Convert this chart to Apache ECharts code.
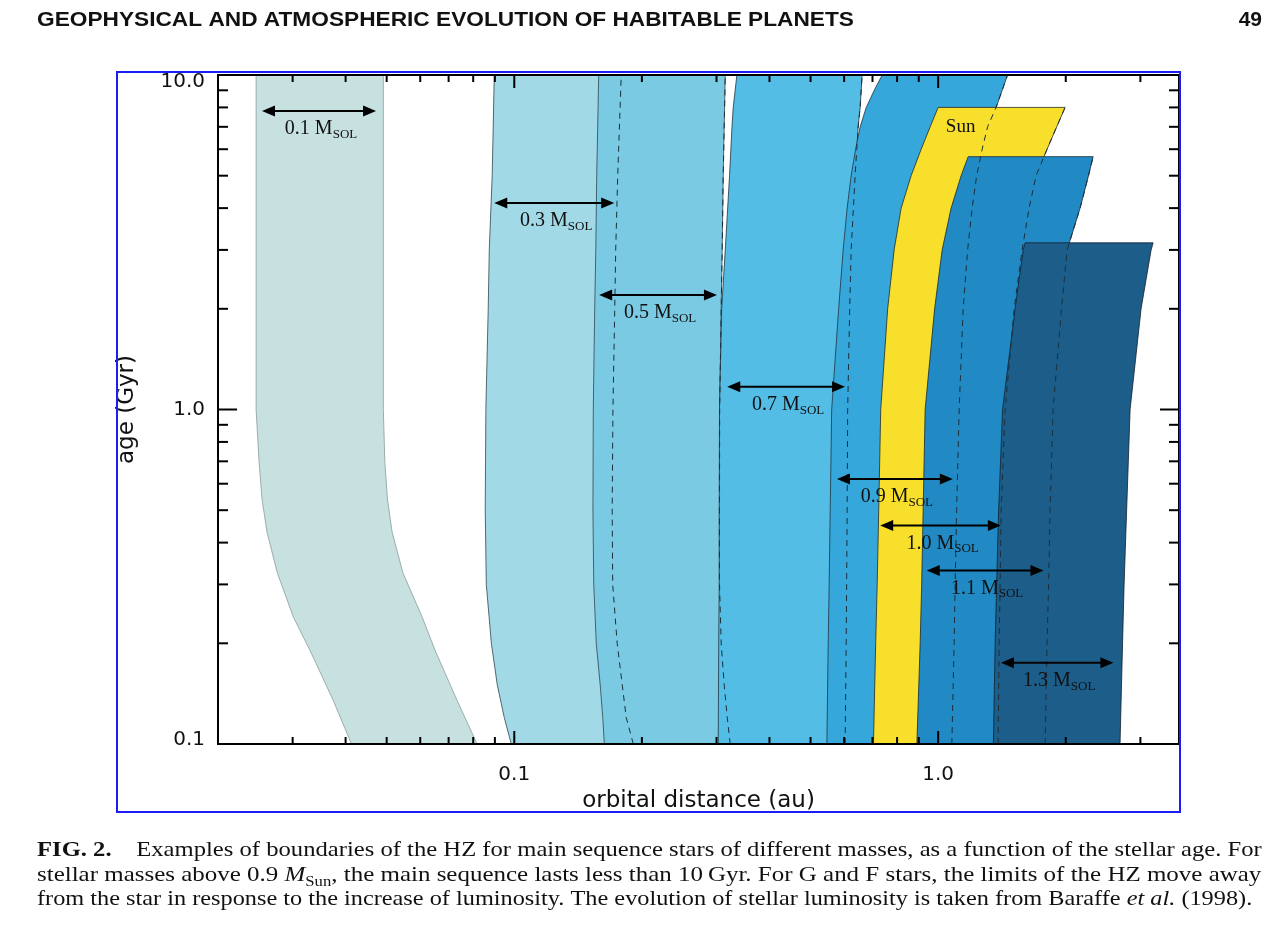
<!DOCTYPE html>
<html>
<head>
<meta charset="utf-8">
<title>HZ boundaries vs stellar age</title>
<script src="https://cdn.jsdelivr.net/npm/echarts@6/dist/echarts.min.js"></script>
<style>
html,body{margin:0;padding:0;background:#fff;}
#chart{width:1280px;height:926px;}
</style>
</head>
<body>
<div id="chart"></div>
<script>
// HZ inner / outer boundaries (au) vs age (Gyr), one set per stellar mass
var m01Age   = [0.1, 0.135, 0.19, 0.24, 0.325, 0.43, 0.54, 0.7, 1, 10];
var m01Inner = [0.0413, 0.0374, 0.0330, 0.0301, 0.0276, 0.0261, 0.0254, 0.0250, 0.0246, 0.0246];
var m01Outer = [0.0817, 0.0733, 0.0651, 0.0606, 0.0546, 0.0515, 0.0502, 0.0495, 0.0491, 0.0491];

var m03Age   = [0.1, 0.12, 0.15, 0.2, 0.3, 0.5, 1, 2, 3, 5, 10];
var m03Inner = [0.0984, 0.0947, 0.0912, 0.0883, 0.0859, 0.0854, 0.0857, 0.0868, 0.0873, 0.0887, 0.0897];
var m03Outer = [0.1909, 0.1837, 0.1798, 0.1749, 0.1707, 0.1702, 0.1709, 0.1726, 0.1735, 0.1754, 0.1788];

var m05Age   = [0.1, 0.12, 0.15, 0.2, 0.3, 0.5, 1, 2, 3, 5, 10];
var m05Inner = [0.1631, 0.1617, 0.1595, 0.1561, 0.1540, 0.1533, 0.1536, 0.1548, 0.1557, 0.1565, 0.1582];
var m05Outer = [0.3232, 0.3180, 0.3128, 0.3077, 0.3049, 0.3049, 0.3052, 0.3077, 0.3094, 0.3111, 0.3146];

var m07Age   = [0.1, 0.2, 0.3, 0.5, 1, 2, 3, 5, 7, 8, 10];
var m07Inner = [0.3028, 0.3036, 0.3044, 0.3044, 0.3049, 0.3085, 0.3146, 0.3220, 0.3263, 0.3285, 0.3351];
var m07Outer = [0.6034, 0.6067, 0.6083, 0.6100, 0.6117, 0.6184, 0.6234, 0.6370, 0.6475, 0.6546, 0.6617];

var m09Age   = [0.1, 0.2, 0.3, 0.5, 1, 2, 3, 4, 5, 6, 7, 8, 9, 10];
var m09Inner = [0.5464, 0.5503, 0.5532, 0.5563, 0.5608, 0.5825, 0.5969, 0.6100, 0.6234, 0.6387, 0.6546, 0.6766, 0.7066, 0.7379];
var m09Outer = [1.0772, 1.0907, 1.0966, 1.1056, 1.1208, 1.1455, 1.1737, 1.2027, 1.2326, 1.2700, 1.3080, 1.3700, 1.4160, 1.4580];

var m10Age   = [0.1, 0.2, 0.3, 0.5, 1, 2, 3, 4, 5, 6, 7, 8];
var m10Inner = [0.7037, 0.7122, 0.7181, 0.7241, 0.7320, 0.7602, 0.7873, 0.8179, 0.8635, 0.9119, 0.9575, 1.0000];
var m10Outer = [1.385, 1.393, 1.400, 1.408, 1.439, 1.511, 1.578, 1.639, 1.702, 1.807, 1.904, 1.993];

var m11Age   = [0.1, 0.2, 0.3, 0.5, 1, 2, 3, 4, 5, 5.7];
var m11Inner = [0.8908, 0.9069, 0.9143, 0.9217, 0.9318, 0.9810, 1.0220, 1.0730, 1.1330, 1.1770];
var m11Outer = [1.788, 1.807, 1.822, 1.837, 1.867, 1.954, 2.015, 2.162, 2.263, 2.321];

var m13Age   = [0.1, 0.2, 0.3, 0.5, 1, 2, 3, 3.15];
var m13Inner = [1.350, 1.363, 1.374, 1.389, 1.419, 1.519, 1.587, 1.604];
var m13Outer = [2.686, 2.723, 2.746, 2.784, 2.837, 3.011, 3.180, 3.215];

// double arrows with mass labels
var arrowMass = ['0.1', '0.3', '0.5', '0.7', '0.9', '1.0', '1.1', '1.3'];
var arrowAge  = [7.8, 4.14, 2.2, 1.17, 0.62, 0.45, 0.33, 0.175];
var arrowFrom = [0.0254, 0.0897, 0.1586, 0.318, 0.577, 0.730, 0.940, 1.406];
var arrowTo   = [0.0472, 0.1721, 0.3007, 0.603, 1.083, 1.406, 1.772, 2.591];

var sunLabelAt = [1.13, 7.0];

// axis ticks
var xMajorTicks = [0.1, 1];
var xMinorTicks = [0.03, 0.04, 0.05, 0.06, 0.07, 0.08, 0.09, 0.2, 0.3, 0.4, 0.5, 0.6, 0.7, 0.8, 0.9, 2, 3];
var yMajorTicks = [1];
var yMinorTicks = [0.2, 0.3, 0.4, 0.5, 0.6, 0.7, 0.8, 0.9, 2, 3, 4, 5, 6, 7, 8, 9];

var bands = [
	{age: m01Age, inner: m01Inner, outer: m01Outer, color: '#c7e0e0', edge: '#8a9c9c', dash: false},
	{age: m03Age, inner: m03Inner, outer: m03Outer, color: '#a2d9e6', edge: '#2f4650', dash: true},
	{age: m05Age, inner: m05Inner, outer: m05Outer, color: '#7bcae4', edge: '#2f4650', dash: true},
	{age: m07Age, inner: m07Inner, outer: m07Outer, color: '#53bde5', edge: '#1f3440', dash: true},
	{age: m09Age, inner: m09Inner, outer: m09Outer, color: '#36a7da', edge: '#1f3440', dash: true},
	{age: m10Age, inner: m10Inner, outer: m10Outer, color: '#f8df2c', edge: '#2a2a20', dash: true},
	{age: m11Age, inner: m11Inner, outer: m11Outer, color: '#2189c3', edge: '#132838', dash: true},
	{age: m13Age, inner: m13Inner, outer: m13Outer, color: '#1c5d8a', edge: '#10202c', dash: false}
];

var serif = '"Liberation Serif", "Times New Roman", serif';
var sans = '"DejaVu Sans", sans-serif';

function bandPoints(b, api){
	var pts = [];
	for (var i = 0; i < b.age.length; i++) pts.push(api.coord([b.inner[i], b.age[i]]));
	for (var j = b.age.length - 1; j >= 0; j--) pts.push(api.coord([b.outer[j], b.age[j]]));
	return pts;
}

function renderBand(params, api){
	var b = bands[params.dataIndex];
	return {
		type: 'polygon',
		shape: {points: bandPoints(b, api)},
		style: {fill: b.color, stroke: b.edge, lineWidth: 0.8}
	};
}

function renderDash(params, api){
	var b = bands[params.dataIndex];
	if (!b.dash) return null;
	var pts = [];
	for (var i = 0; i < b.age.length; i++) pts.push(api.coord([b.outer[i], b.age[i]]));
	return {
		type: 'polyline',
		shape: {points: pts},
		style: {stroke: '#1b2f3c', lineWidth: 1, lineDash: [6, 5], fill: null}
	};
}

function renderArrow(params, api){
	var i = params.dataIndex;
	var p1 = api.coord([arrowFrom[i], arrowAge[i]]);
	var p2 = api.coord([arrowTo[i], arrowAge[i]]);
	var y = p1[1], h = 13, w = 5.5;
	return {
		type: 'group',
		children: [
			{type: 'line', shape: {x1: p1[0] + h - 2, y1: y, x2: p2[0] - h + 2, y2: y}, style: {stroke: '#000', lineWidth: 2}},
			{type: 'polygon', shape: {points: [[p1[0], y], [p1[0] + h, y - w], [p1[0] + h, y + w]]}, style: {fill: '#000'}},
			{type: 'polygon', shape: {points: [[p2[0], y], [p2[0] - h, y - w], [p2[0] - h, y + w]]}, style: {fill: '#000'}},
			{type: 'text', x: (p1[0] + p2[0]) / 2 + 2, y: y + 8, style: {
				text: '{a|' + arrowMass[i] + ' M}{b|SOL}',
				align: 'center', verticalAlign: 'top',
				fill: '#111',
				rich: {
					a: {fontFamily: serif, fontSize: 20, lineHeight: 22, verticalAlign: 'top', fill: '#111'},
					b: {fontFamily: serif, fontSize: 13, lineHeight: 14, padding: [12, 0, 0, 0], verticalAlign: 'bottom', fill: '#111'}
				}
			}}
		]
	};
}

function renderSun(params, api){
	var p = api.coord([api.value(0), api.value(1)]);
	return {type: 'text', x: p[0], y: p[1], style: {text: 'Sun', font: '19px ' + serif, fill: '#111', align: 'center', verticalAlign: 'middle'}};
}

function renderXTick(params, api){
	var cs = params.coordSys;
	var p = api.coord([api.value(0), 1]);
	var len = api.value(2) ? 13 : 7;
	var st = {stroke: '#000', lineWidth: 2};
	return {type: 'group', children: [
		{type: 'line', shape: {x1: p[0], y1: cs.y + cs.height, x2: p[0], y2: cs.y + cs.height - len}, style: st},
		{type: 'line', shape: {x1: p[0], y1: cs.y, x2: p[0], y2: cs.y + len}, style: st}
	]};
}

function renderYTick(params, api){
	var cs = params.coordSys;
	var p = api.coord([1, api.value(1)]);
	var len = api.value(2) ? 19 : 10;
	var st = {stroke: '#000', lineWidth: 2};
	return {type: 'group', children: [
		{type: 'line', shape: {x1: cs.x, y1: p[1], x2: cs.x + len, y2: p[1]}, style: st},
		{type: 'line', shape: {x1: cs.x + cs.width, y1: p[1], x2: cs.x + cs.width - len, y2: p[1]}, style: st}
	]};
}

function xTickLabel(v){
	var t = +v.toPrecision(3);
	if (t === 0.1) return '0.1';
	if (t === 1) return '1.0';
	return '';
}

function yTickLabel(v){
	var t = +v.toPrecision(3);
	if (t === 0.1) return '{lo|0.1}';
	if (t === 1) return '1.0';
	if (t === 10) return '{hi|10.0}';
	return '';
}

var xTickData = xMajorTicks.map(function(v){ return [v, 1, 1]; })
	.concat(xMinorTicks.map(function(v){ return [v, 1, 0]; }));
var yTickData = yMajorTicks.map(function(v){ return [1, v, 1]; })
	.concat(yMinorTicks.map(function(v){ return [1, v, 0]; }));

var capR = {fontFamily: serif, fontSize: 21, lineHeight: 24, verticalAlign: 'top', fill: '#111'};
var capB = {fontFamily: serif, fontSize: 21, lineHeight: 24, verticalAlign: 'top', fontWeight: 'bold', fill: '#111'};
var capI = {fontFamily: serif, fontSize: 21, lineHeight: 24, verticalAlign: 'top', fontStyle: 'italic', fill: '#111'};
var capS = {fontFamily: serif, fontSize: 14, lineHeight: 16, padding: [12, 0, 0, 0], verticalAlign: 'bottom', fill: '#111'};
var capRich = {r: capR, b: capB, i: capI, s: capS};

var myChart = echarts.init(document.getElementById('chart'));
var option = {
	animation: false,
	backgroundColor: '#fff',
	grid: {left: 218, top: 75, width: 961, height: 669, show: true, borderColor: '#000', borderWidth: 2, backgroundColor: 'transparent', z: 10, outerBoundsMode: 'none'},
	xAxis: {
		type: 'log', logBase: 10, min: 0.02, max: 3.7, z: 10,
		axisLine: {show: true, lineStyle: {color: '#000', width: 2}},
		axisTick: {show: false}, splitLine: {show: false}, minorTick: {show: false},
		axisLabel: {formatter: xTickLabel, margin: 21, fontSize: 20, fontFamily: sans, color: '#111', showMinLabel: false, showMaxLabel: false},
		name: 'orbital distance (au)', nameLocation: 'middle', nameGap: 44,
		nameTextStyle: {fontSize: 23, fontFamily: sans, color: '#111'}
	},
	yAxis: {
		type: 'log', logBase: 10, min: 0.1, max: 10, z: 10,
		axisLine: {show: true, lineStyle: {color: '#000', width: 2}},
		axisTick: {show: false}, splitLine: {show: false}, minorTick: {show: false},
		axisLabel: {formatter: yTickLabel, margin: 13, fontSize: 20, fontFamily: sans, color: '#111',
			rich: {hi: {fontSize: 20, fontFamily: sans, color: '#111', padding: [14, 0, 0, 0]},
				lo: {fontSize: 20, fontFamily: sans, color: '#111', padding: [0, 0, 8, 0]}}},
		name: 'age (Gyr)', nameLocation: 'middle', nameGap: 79,
		nameTextStyle: {fontSize: 23, fontFamily: sans, color: '#111'}
	},
	graphic: [
		{type: 'rect', shape: {x: 117, y: 72, width: 1063, height: 740}, style: {fill: null, stroke: '#1c1cf5', lineWidth: 2}, z: 20},
		{type: 'text', x: 37, y: 10, scaleX: 1.08, style: {text: 'GEOPHYSICAL AND ATMOSPHERIC EVOLUTION OF HABITABLE PLANETS', font: 'bold 21px "Liberation Sans", Arial, sans-serif', fill: '#111'}},
		{type: 'text', right: 18, top: 10, style: {text: '49', font: 'bold 21px "Liberation Sans", Arial, sans-serif', fill: '#111'}},
		{type: 'text', x: 37, y: 840, scaleX: 1.173, style: {text: '{b|FIG. 2.}{r|    Examples of boundaries of the HZ for main sequence stars of different masses, as a function of the stellar age. For}', rich: capRich}},
		{type: 'text', x: 37, y: 865, scaleX: 1.189, style: {text: '{r|stellar masses above 0.9 }{i|M}{s|Sun}{r|, the main sequence lasts less than 10\u2009Gyr. For G and F stars, the limits of the HZ move away}', rich: capRich}},
		{type: 'text', x: 37, y: 889, scaleX: 1.157, style: {text: '{r|from the star in response to the increase of luminosity. The evolution of stellar luminosity is taken from Baraffe }{i|et al.}{r| (1998).}', rich: capRich}}
	],
	series: [
		{type: 'custom', name: 'bands', renderItem: renderBand, clip: true, z: 2,
			data: bands.map(function(b){ return [b.inner[0], b.age[0]]; })},
		{type: 'custom', name: 'covered edges', renderItem: renderDash, clip: true, z: 3,
			data: bands.map(function(b){ return [b.outer[0], b.age[0]]; })},
		{type: 'custom', name: 'arrows', renderItem: renderArrow, clip: false, z: 4,
			data: arrowAge.map(function(a, i){ return [arrowFrom[i], a]; })},
		{type: 'custom', name: 'sun', renderItem: renderSun, clip: false, z: 4, data: [sunLabelAt]},
		{type: 'custom', name: 'xticks', renderItem: renderXTick, clip: false, z: 12, data: xTickData},
		{type: 'custom', name: 'yticks', renderItem: renderYTick, clip: false, z: 12, data: yTickData}
	]
};
myChart.setOption(option);
</script>
</body>
</html>
